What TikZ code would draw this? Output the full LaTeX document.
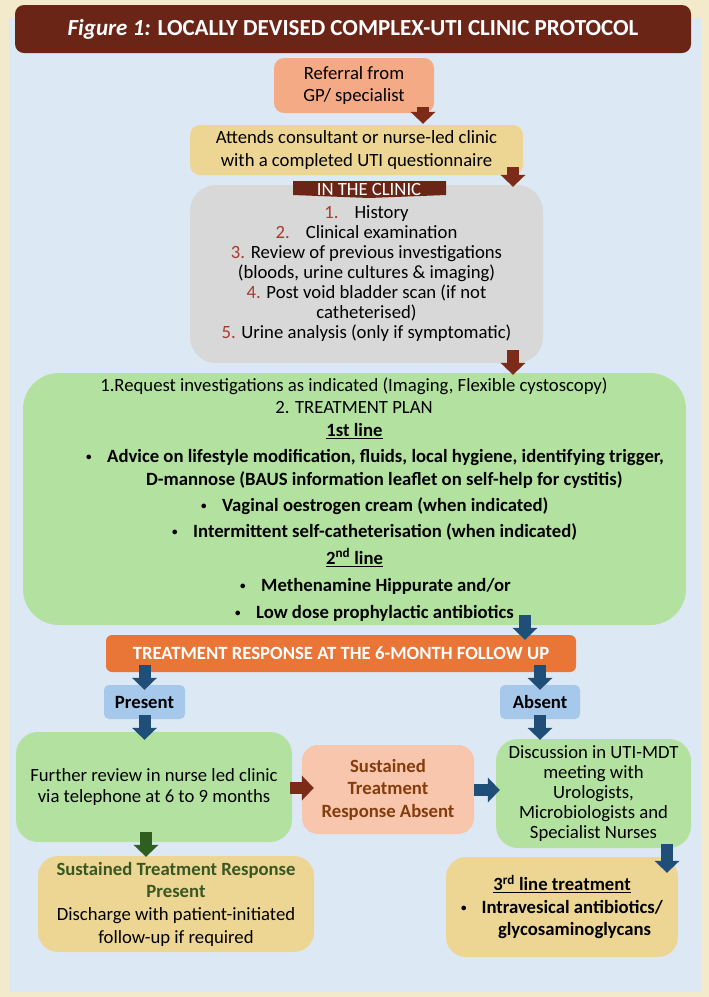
\documentclass[tikz,border=0pt]{standalone}
\usepackage{fontspec}
\setmainfont{Carlito}
\usetikzlibrary{arrows.meta,calc}

\definecolor{cream}{HTML}{F3EACB}
\definecolor{panel}{HTML}{DDE8F5}
\definecolor{maroon}{HTML}{6A2517}
\definecolor{salmon}{HTML}{F4AA85}
\definecolor{sand}{HTML}{EDD694}
\definecolor{greybox}{HTML}{D8D8D8}
\definecolor{leaf}{HTML}{B3E2A0}
\definecolor{tangerine}{HTML}{E97537}
\definecolor{sky}{HTML}{A5C8EB}
\definecolor{peach}{HTML}{F7C6AC}
\definecolor{numred}{HTML}{A83A2E}
\definecolor{rust}{HTML}{843C0C}
\definecolor{moss}{HTML}{385723}
\definecolor{arrowred}{HTML}{7C2B19}
\definecolor{arrowblue}{HTML}{1F4E79}
\definecolor{arrowgreen}{HTML}{2F5F1F}

\newcommand{\fsz}[2]{\fontsize{#1pt}{#2pt}\selectfont}
\newcommand{\nr}[1]{\textcolor{numred}{#1}}
\newcommand{\bdot}{\raisebox{1.5pt}{\fontsize{11pt}{11pt}\selectfont •}}
\newcommand{\bul}{\makebox[21pt][l]{\bdot}}

\begin{document}
\begin{tikzpicture}[x=1pt,y=-1pt,
  box/.style={inner sep=0pt, align=center, rounded corners=#1},
  box/.default=10pt,
  gline/.style={inner sep=0pt, font=\fsz{18.7}{22}\bfseries, text height=13pt, text depth=4.5pt},
  glinereg/.style={gline, font=\fsz{18.7}{22}},
  shaft/.style={line width=12pt, -{Triangle[width=25pt,length=12pt,line width=0pt]}},
  redarrow/.style={shaft, draw=arrowred},
  bluearrow/.style={shaft, draw=arrowblue},
  greenarrow/.style={shaft, draw=arrowgreen},
]
% page and inner panel
\fill[cream] (0,0) rectangle (709,997);
\useasboundingbox (0,0) rectangle (709,997);
\fill[panel] (9,18) rectangle (701,992);

% title bar
\node[box=9pt, fill=maroon, minimum width=676pt, minimum height=48pt,
      text=white, font=\fsz{23}{27}\bfseries] (title) at (353,29)
  {\textit{Figure 1:} LOCALLY DEVISED COMPLEX-UTI CLINIC PROTOCOL};

% referral and clinic attendance
\node[box=10pt, fill=salmon, minimum width=160pt, minimum height=55pt,
      font=\fsz{18.7}{22}] (referral) at (354,85.5)
  {Referral from\\GP/ specialist};
\node[box=10pt, fill=sand, minimum width=333pt, minimum height=50pt,
      font=\fsz{18.7}{23}] (attends) at (356.5,150)
  {Attends consultant or nurse-led clinic\\with a completed UTI questionnaire};

% in the clinic
\node[box=26pt, fill=greybox, minimum width=353pt, minimum height=178pt,
      font=\fsz{18.7}{20}] (clinic) at (366.5,274)
  {\nr{1.}\hspace{16pt}History\\
   \nr{2.}\hspace{16pt}Clinical examination\\
   \nr{3.} Review of previous investigations\\
   (bloods, urine cultures \& imaging)\\
   \nr{4.} Post void bladder scan (if not\\
   catheterised)\\
   \nr{5.} Urine analysis (only if symptomatic)};
\fill[maroon] (293,181) -- (446,181) -- (446,195) -- (369,198) -- (293,195) -- cycle;
\node[inner sep=0pt, text=white, font=\fsz{18.7}{20}] (banner) at (369,189) {IN THE CLINIC};

% investigations and treatment plan
\node[box=36pt, fill=leaf, minimum width=663pt, minimum height=252pt] (plan) at (354.5,499) {};
\node[glinereg] (g1) at (354,387) {1.Request investigations as indicated (Imaging, Flexible cystoscopy)};
\node[glinereg] (g2) at (354,409) {2. TREATMENT PLAN};
\node[gline] (g3) at (354.5,432) {\underline{1st line}};
\node[gline, anchor=west] (g4) at (86,458) {\bul Advice on lifestyle modification, fluids, local hygiene, identifying trigger,};
\node[gline, anchor=west] (g5) at (146,481) {D-mannose (BAUS information leaflet on self-help for cystitis)};
\node[gline, anchor=west] (g6) at (201,507) {\bul Vaginal oestrogen cream (when indicated)};
\node[gline, anchor=west] (g7) at (172,533) {\bul Intermittent self-catheterisation (when indicated)};
\node[gline] (g8) at (354.5,560) {\underline{2\textsuperscript{nd} line}};
\node[gline, anchor=west] (g9) at (240,587) {\bul Methenamine Hippurate and/or};
\node[gline, anchor=west] (g10) at (235,614) {\bul Low dose prophylactic antibiotics};

% follow-up
\node[box=6pt, fill=tangerine, minimum width=470pt, minimum height=37pt,
      text=white, font=\fsz{18.7}{22}\bfseries] (response) at (341,653.5)
  {TREATMENT RESPONSE AT THE 6-MONTH FOLLOW UP};
\node[box=5pt, fill=sky, minimum width=81pt, minimum height=34pt,
      font=\fsz{18.7}{22}\bfseries] (present) at (144.5,702) {Present};
\node[box=5pt, fill=sky, minimum width=80pt, minimum height=34pt,
      font=\fsz{18.7}{22}\bfseries] (absent) at (540,702) {Absent};

\node[box=22pt, fill=leaf, minimum width=276pt, minimum height=110pt,
      font=\fsz{18.7}{20.5}] (further) at (154,787)
  {Further review in nurse led clinic\\via telephone at 6 to 9 months};
\node[box=16pt, fill=peach, minimum width=172pt, minimum height=89pt,
      text=rust, font=\fsz{18.7}{22.5}\bfseries] (noresponse) at (388,789.5)
  {Sustained\\Treatment\\Response Absent};
\node[box=22pt, fill=leaf, minimum width=195pt, minimum height=109pt,
      font=\fsz{18.7}{20}] (mdt) at (593.5,793.5)
  {Discussion in UTI-MDT\\meeting with\\Urologists,\\Microbiologists and\\Specialist Nurses};
\node[box=20pt, fill=sand, minimum width=276pt, minimum height=96pt,
      font=\fsz{18.7}{22.7}] (discharge) at (176,904)
  {\textcolor{moss}{\bfseries Sustained Treatment Response}\\
   \textcolor{moss}{\bfseries Present}\\
   Discharge with patient-initiated\\
   follow-up if required};
\node[box=20pt, fill=sand, minimum width=232pt, minimum height=100pt,
      font=\fsz{18.7}{22.5}\bfseries] (thirdline) at (562,907)
  {\underline{3\textsuperscript{rd}\ line treatment}\\
   \bdot\hspace{0.8em}Intravesical antibiotics/\\
   \hspace*{25pt}glycosaminoglycans};

% arrow positions
\coordinate (xa) at (423,0);
\coordinate (xb) at (513,0);
\coordinate (xc) at (525,0);
\coordinate (xd) at (146,0);
\coordinate (xe) at (667,0);
\coordinate (ya) at (0,788);
\coordinate (yb) at (0,790);

% connectors
\draw[redarrow] ($(referral.south -| xa)+(0,-6)$) -- ($(attends.north -| xa)+(0,-1)$);
\draw[redarrow] ($(attends.south -| xb)+(0,-8)$) -- ($(clinic.north -| xb)+(0,2)$);
\draw[redarrow] ($(clinic.south -| xb)+(0,-13)$) -- ($(plan.north -| xb)+(0,2)$);
\draw[bluearrow] ($(plan.south -| xc)+(0,-10)$) -- ($(response.north -| xc)+(0,5)$);
\draw[bluearrow] ($(response.south -| present)+(0,-7)$) -- ($(present.north)+(0,5)$);
\draw[bluearrow] ($(response.south -| absent)+(0,-7)$) -- ($(absent.north)+(0,5)$);
\draw[bluearrow] ($(present.south)+(0,-4)$) -- ($(further.north -| present)+(0,8)$);
\draw[bluearrow] ($(absent.south)+(0,-4)$) -- ($(mdt.north -| absent)+(0,1)$);
\draw[redarrow] ($(further.east |- ya)+(-2,0)$) -- ($(noresponse.west |- ya)+(12,0)$);
\draw[bluearrow] (noresponse.east |- yb) -- ($(mdt.west |- yb)+(4,0)$);
\draw[greenarrow] ($(further.south -| xd)+(0,-10)$) -- ($(discharge.north -| xd)+(0,1)$);
\draw[bluearrow] ($(mdt.south -| xe)+(0,-4)$) -- ($(thirdline.north -| xe)+(0,16)$);
\end{tikzpicture}
\end{document}
